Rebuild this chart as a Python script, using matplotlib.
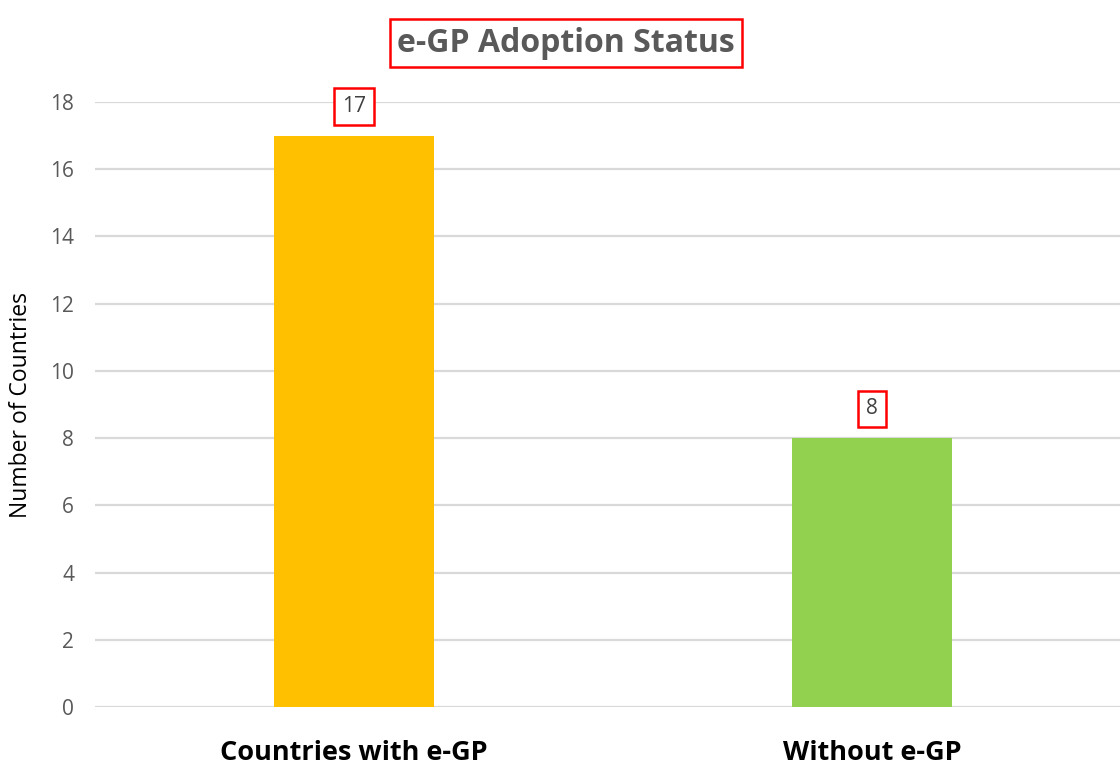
import matplotlib.pyplot as plt

# datos
categorias = ['Countries with e-GP', 'Without e-GP']
paises = [17, 8]
colores = ['#FFC000', '#92D050']

plt.rcParams['font.family'] = ['Open Sans', 'DejaVu Sans']

fig = plt.figure(figsize=(11.2, 7.7), dpi=100)
ax = fig.add_axes([95 / 1120, 63 / 770, 1036 / 1120, 605 / 770])

x = range(len(categorias))
barras = ax.bar(x, paises, width=0.31, color=colores, zorder=3)

ax.set_xlim(-0.5, 1.5)
ax.set_ylim(0, 18)
ax.set_yticks(range(0, 19, 2))
ax.grid(axis='y', color='#D9D9D9', linewidth=1.6, zorder=0)
for s in ax.spines.values():
    s.set_visible(False)

ax.tick_params(axis='y', length=0, pad=15, labelsize=15, labelcolor='#595959')
ax.tick_params(axis='x', length=0, pad=24)
ax.set_xticks(list(x))
ax.set_xticklabels(categorias, fontsize=19.5, fontweight='bold', color='black')
ax.set_ylabel('Number of Countries', fontsize=16.5, color='black', labelpad=12)

# etiquetas de valor con recuadro rojo
for b, v in zip(barras, paises):
    ax.annotate(str(v), (b.get_x() + b.get_width() / 2, v),
                xytext=(0, 21), textcoords='offset points',
                ha='center', va='center', fontsize=15, color='#404040',
                bbox=dict(boxstyle='square,pad=0.38', fc='white', ec='#FF0000', lw=1.8),
                zorder=4)

fig.text(566 / 1120, 1 - 43 / 770, 'e-GP Adoption Status', ha='center', va='center',
         fontsize=23, fontweight='bold', color='#595959',
         bbox=dict(boxstyle='square,pad=0.22', fc='white', ec='#FF0000', lw=1.8))

fig.savefig('out.png', dpi=100)
